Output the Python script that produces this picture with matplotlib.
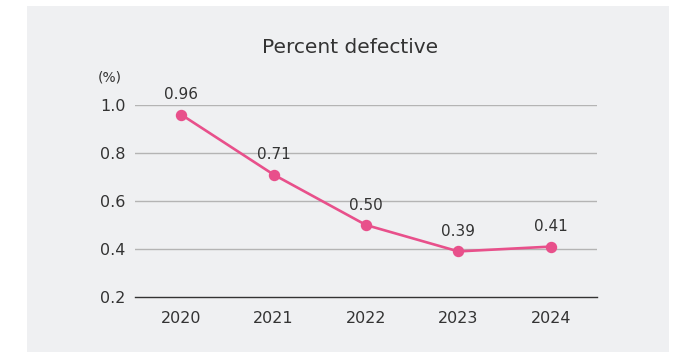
import matplotlib
matplotlib.use("Agg")
import matplotlib.pyplot as plt
from matplotlib.patches import Rectangle

years = ["2020", "2021", "2022", "2023", "2024"]
defect_rate = [0.96, 0.71, 0.50, 0.39, 0.41]
y_ticks = [0.2, 0.4, 0.6, 0.8, 1.0]
y_tick_labels = ["0.2", "0.4", "0.6", "0.8", "1.0"]

PINK = "#e8508b"
TEXT = "#333333"
PANEL = "#eff0f2"

plt.rcParams["font.family"] = ["DejaVu Sans"]

fig = plt.figure(figsize=(6.75, 3.54), dpi=100)
fig.patch.set_facecolor("white")
fig.add_artist(Rectangle((0.04, 0.0056), 0.951, 0.977, transform=fig.transFigure,
                         facecolor=PANEL, edgecolor="none", zorder=0))

ax = fig.add_axes([0.2, 0.161, 0.6844, 0.5424])
ax.set_facecolor("none")
x = list(range(len(years)))
ax.plot(x, defect_rate, color=PINK, lw=1.9, marker="o", ms=7.2, clip_on=False, zorder=3)
for xi, v in zip(x, defect_rate):
    ax.annotate(f"{v:.2f}", (xi, v), xytext=(0, 9), textcoords="offset points",
                ha="center", va="bottom", fontsize=11, color=TEXT)

ax.set_xlim(-0.5, len(years) - 0.5)
ax.set_ylim(0.2, 1.0)
ax.set_xticks(x)
ax.set_xticklabels(years, fontsize=11.5, color=TEXT)
ax.set_yticks(y_ticks)
ax.set_yticklabels(y_tick_labels, fontsize=11.5, color=TEXT)
ax.tick_params(length=0, pad=7)
ax.tick_params(axis="x", pad=10)
for yt in y_ticks[1:]:
    ax.axhline(yt, color="#b4b4b4", lw=1.0, zorder=1)
for s in ["top", "right", "left"]:
    ax.spines[s].set_visible(False)
ax.spines["bottom"].set_color("#333333")
ax.spines["bottom"].set_linewidth(1.0)

fig.text(0.163, 0.782, "(%)", fontsize=10, color=TEXT, ha="center", va="center")
fig.text(0.518, 0.865, "Percent defective", fontsize=14.5, color=TEXT, ha="center", va="center")

fig.savefig("out.png", dpi=100)
